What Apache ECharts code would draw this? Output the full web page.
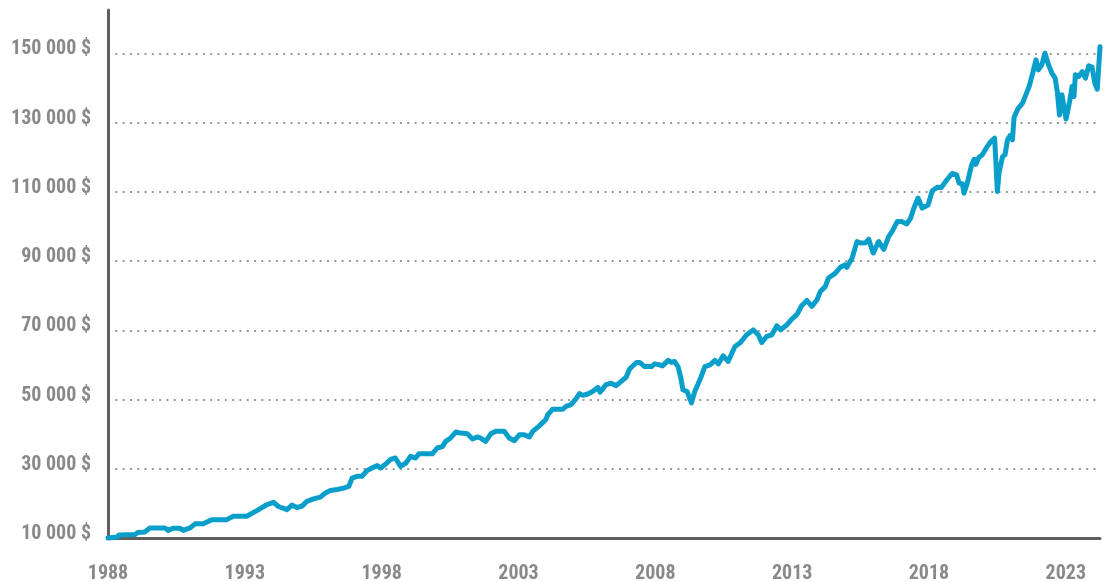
<!DOCTYPE html>
<html>
<head>
<meta charset="utf-8">
<script src="https://cdn.jsdelivr.net/npm/echarts@6/dist/echarts.min.js"></script>
<style>
html,body{margin:0;padding:0;background:#fff;}
#chart{width:1110px;height:582px;}
</style>
</head>
<body>
<div id="chart"></div>
<script>
// Year (decimal) of each point
const years = [
1988.00,1988.35,1988.40,1988.98,1989.10,1989.34,1989.53,1990.08,1990.20,1990.38,1990.63,1990.75,1991.00,1991.18,1991.48,1991.79,1992.34,1992.58,1993.07,1993.44,
1993.80,1994.05,1994.23,1994.54,1994.72,1994.90,1995.09,1995.27,1995.51,1995.76,1995.94,1996.13,1996.37,1996.61,1996.80,1996.92,1997.10,1997.28,1997.47,1997.65,
1997.84,1997.96,1998.14,1998.33,1998.50,1998.69,1998.88,1999.06,1999.24,1999.36,1999.85,2000.03,2000.22,2000.34,2000.52,2000.71,2000.89,2001.13,2001.32,2001.50,
2001.60,2001.80,2001.99,2002.17,2002.48,2002.54,2002.66,2002.85,2003.03,2003.21,2003.40,2003.52,2003.76,2004.00,2004.07,2004.25,2004.62,2004.74,2004.92,2005.10,
2005.23,2005.35,2005.53,2005.71,2005.90,2005.98,2006.20,2006.39,2006.57,2006.82,2006.94,2007.06,2007.31,2007.43,2007.61,2007.86,2007.98,2008.16,2008.26,2008.47,
2008.59,2008.70,2008.83,2008.92,2009.01,2009.16,2009.32,2009.44,2009.63,2009.81,2010.00,2010.06,2010.18,2010.30,2010.48,2010.66,2010.91,2011.09,2011.34,2011.58,
2011.76,2011.89,2012.07,2012.26,2012.44,2012.58,2012.81,2012.99,2013.17,2013.35,2013.54,2013.72,2013.91,2014.03,2014.21,2014.33,2014.58,2014.76,2014.94,2015.00,
2015.19,2015.37,2015.50,2015.68,2015.80,2015.96,2016.16,2016.35,2016.53,2016.65,2016.84,2017.00,2017.19,2017.33,2017.45,2017.60,2017.75,2017.97,2018.12,2018.30,
2018.45,2018.65,2018.85,2019.01,2019.10,2019.22,2019.28,2019.40,2019.55,2019.65,2019.71,2019.83,2019.95,2020.13,2020.26,2020.40,2020.50,2020.56,2020.69,2020.78,
2020.87,2020.96,2021.05,2021.11,2021.26,2021.42,2021.54,2021.66,2021.79,2021.91,2022.00,2022.12,2022.24,2022.37,2022.49,2022.61,2022.69,2022.77,2022.86,2023.01,
2023.14,2023.23,2023.30,2023.35,2023.47,2023.60,2023.72,2023.84,2023.96,2024.06,2024.15,2024.25
];
// Portfolio value in dollars
const values = [
10000,10300,10900,11000,11600,11700,12900,12900,12200,12800,12800,12200,12900,14100,14100,15300,15300,16300,16300,17900,
19600,20300,19100,18200,19500,18800,19200,20600,21300,21800,23000,23700,24000,24400,24900,27300,27800,27800,29500,30200,
30900,30200,31300,32700,33100,30700,31600,33600,33100,34300,34300,36000,36400,37900,38900,40600,40300,40100,38600,39200,
38900,37900,40100,40800,40800,41100,38900,38100,39800,39800,39200,40800,42400,44200,45600,47200,47200,48000,48500,50200,
51700,51200,51600,52300,53500,52100,54300,54700,54000,55700,56500,58800,60700,60700,59500,59500,60300,60000,59700,61300,
60700,61000,59500,56700,52800,52300,49000,52300,55700,59500,60000,59500,61300,60300,62600,61000,65300,66300,68700,70100,
68700,66500,68200,68700,71300,70100,71600,73200,74500,77100,78600,76900,78800,81200,82600,85100,86500,88200,88900,88200,
90800,95600,95200,95300,96300,92300,95600,93400,97100,98500,101400,101400,100700,102400,105300,108200,105300,106200,110300,111300,
111200,113400,115300,114900,112500,112300,109600,112500,117500,119400,117900,120000,120700,123100,124500,125500,110100,115400,120200,120700,
125000,126200,125000,131500,134100,135600,138000,140400,144300,148100,145200,146600,150000,146600,144300,142800,138900,132200,138000,131000,
136100,140400,137500,143800,143300,144700,142800,146400,146000,141400,139600,151900
];
// Tick labels
const yearLabels = [1988, 1993, 1998, 2003, 2008, 2013, 2018, 2023];
const valueLabels = [10000, 30000, 50000, 70000, 90000, 110000, 130000, 150000];

const fmtMoney = v => String(v).replace(/\B(?=(\d{3})+(?!\d))/g, ' ') + ' $';
const FONT = "Roboto, 'Liberation Sans', sans-serif";
const WEIGHT = 'bold condensed';
const GRAY = '#898989';

const chart = echarts.init(document.getElementById('chart'), null, {renderer: 'canvas'});
chart.setOption({
  animation: false,
  backgroundColor: '#fff',
  grid: {left: 108, right: 10, top: 10, bottom: 44, containLabel: false, outerBoundsMode: 'none'},
  xAxis: {
    type: 'value',
    min: 1988,
    max: 2024.25,
    interval: 5,
    axisLine: {show: true, onZero: false, lineStyle: {color: '#5f5f5f', width: 3}},
    axisTick: {show: false},
    splitLine: {show: false},
    axisLabel: {
      show: true,
      margin: 26,
      color: GRAY,
      fontFamily: FONT,
      fontWeight: WEIGHT,
      fontSize: 20,
      showMaxLabel: false,
      formatter: v => yearLabels.indexOf(Math.round(v * 100) / 100) >= 0 ? String(v) : ''
    }
  },
  yAxis: {
    type: 'value',
    min: 10000,
    max: 162500,
    interval: 10000,
    axisLine: {show: true, onZero: false, lineStyle: {color: '#5f5f5f', width: 3}},
    axisTick: {show: false},
    splitLine: {
      show: true,
      showMinLine: false,
      showMaxLine: false,
      lineStyle: {color: ['rgba(0,0,0,0)', '#9a9a9a'], width: 2, type: [2, 5.3]}
    },
    axisLabel: {
      show: true,
      margin: 17,
      color: GRAY,
      fontFamily: FONT,
      fontWeight: WEIGHT,
      fontSize: 20,
      showMaxLabel: false,
      formatter: v => valueLabels.indexOf(v) >= 0 ? '{a|' + fmtMoney(v) + '}' : '',
      rich: {
        a: {
          color: GRAY,
          fontFamily: FONT,
          fontWeight: WEIGHT,
          fontSize: 20,
          lineHeight: 24,
          padding: [0, 0, 8, 0]
        }
      }
    }
  },
  series: [{
    type: 'line',
    data: years.map((y, i) => [y, values[i]]),
    showSymbol: false,
    symbol: 'none',
    smooth: false,
    clip: false,
    lineStyle: {color: '#0a9fcb', width: 5, join: 'round', cap: 'round'},
    z: 1
  }]
});
</script>
</body>
</html>
